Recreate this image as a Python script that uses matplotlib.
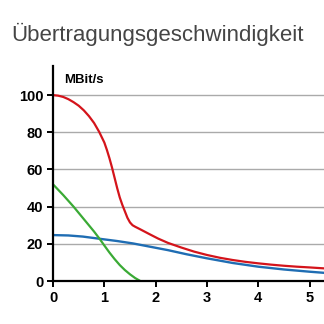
import matplotlib
matplotlib.use("Agg")
import matplotlib.pyplot as plt

plt.rcParams['font.family'] = ['Liberation Sans', 'DejaVu Sans']

# data
red_x = [0, 0.1, 0.2, 0.3, 0.4, 0.5, 0.6, 0.7, 0.8, 0.9, 1.0, 1.05, 1.1, 1.15,
         1.2, 1.25, 1.3, 1.35, 1.4, 1.45, 1.5, 1.55, 1.6, 1.7, 1.88, 2.05, 2.24, 2.5, 2.75,
         3.0, 3.25, 3.5, 3.75, 4.0, 4.25, 4.5, 4.75, 5.0, 5.28]
red_y = [100, 99.7, 99.0, 97.8, 96.2, 94.3, 91.8, 88.7, 85.0, 80.2, 74.5, 70.5, 66, 61,
         55.5, 50, 45, 41, 37.5, 34, 31.5, 30, 29.2, 27.8, 25.2, 22.8, 20.5, 18, 15.8,
         14, 12.5, 11.3, 10.3, 9.5, 8.8, 8.2, 7.7, 7.3, 6.8]
blue_x = [0, 0.3, 0.58, 0.94, 1.25, 1.56, 1.9, 2.24, 2.6, 3.0, 3.5, 4.0, 4.5, 5.0, 5.28]
blue_y = [24.7, 24.5, 23.9, 22.6, 21.5, 20.2, 18.4, 16.6, 14.4, 12.2, 9.7, 7.7, 6.2, 5.0, 4.4]
green_x = [0, 0.2, 0.4, 0.6, 0.8, 0.91, 1.0, 1.1, 1.2, 1.3, 1.4, 1.5, 1.6, 1.7]
green_y = [52, 46.2, 40.0, 33.3, 26.6, 22.6, 19.1, 15.3, 11.8, 8.6, 5.9, 3.6, 1.6, 0]

xticks = [0, 1, 2, 3, 4, 5]
yticks = [0, 20, 40, 60, 80, 100]

fig = plt.figure(figsize=(3.24, 3.24), dpi=100)
ax = fig.add_axes([0.1636, 0.1327, 0.8364, 0.6633])

for y in yticks[1:]:
    ax.axhline(y, color='#aaaaaa', lw=1.0, zorder=1)

ax.plot(blue_x, blue_y, color='#1f6db3', lw=1.7, zorder=3)
ax.plot(red_x, red_y, color='#d4141b', lw=1.6, zorder=4)
ax.plot(green_x, green_y, color='#3aaa35', lw=1.6, zorder=3)

ax.set_xlim(0, 5.28)
ax.set_ylim(0, 115.6)
ax.set_xticks(xticks)
ax.set_yticks(yticks)
for s in ['top', 'right']:
    ax.spines[s].set_visible(False)
for s in ['left', 'bottom']:
    ax.spines[s].set_linewidth(1.6)
    ax.spines[s].set_zorder(5)
ax.tick_params(axis='both', width=1.4, length=4, labelsize=10.5, pad=3)
for lab in ax.get_xticklabels() + ax.get_yticklabels():
    lab.set_fontweight('bold')

ax.text(0.04, 0.965, 'MBit/s', transform=ax.transAxes, fontsize=9.5,
        fontweight='bold', va='top', ha='left')
fig.text(0.035, 0.895, 'Übertragungsgeschwindigkeit', fontsize=16,
         color='#454545', va='center', ha='left')

fig.savefig('out.png', dpi=100)
